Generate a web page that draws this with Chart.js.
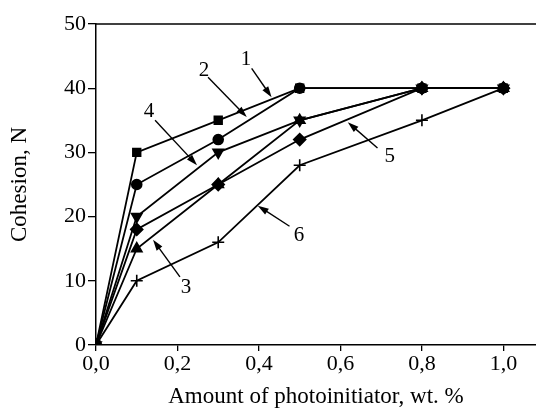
<!DOCTYPE html>
<html>
<head>
<meta charset="utf-8">
<script src="https://cdn.jsdelivr.net/npm/chart.js@4.4.0/dist/chart.umd.min.js"></script>
<style>
  html, body { margin: 0; padding: 0; background: #fff; }
  #wrap { width: 536px; height: 414px; }
</style>
</head>
<body>
<div id="wrap"><canvas id="chart"></canvas></div>
<script>
// photoinitiator amount, wt. %
const amounts = [0, 0.1, 0.3, 0.5, 0.8, 1.0];

// cohesion, N
const curve1 = [0, 30, 35, 40, 40, 40];
const curve2 = [0, 25, 32, 40, 40, 40];
const curve3 = [0, 15, 25, 35, 40, 40];
const curve4 = [0, 20, 30, 35, 40, 40];
const curve5 = [0, 18, 25, 32, 40, 40];
const curve6 = [0, 10, 16, 28, 35, 40];

const xTicks = [0, 0.2, 0.4, 0.6, 0.8, 1.0];

// curve numbers with arrows (data coords)
const tagText = ['1', '2', '3', '4', '5', '6'];
const tagX    = [0.368, 0.265, 0.221, 0.130, 0.721, 0.498];
const tagY    = [44.4, 42.8, 9.0, 36.3, 29.3, 17.1];
const arrowX0 = [0.382, 0.275, 0.206, 0.145, 0.691, 0.475];
const arrowY0 = [43.1, 41.7, 10.6, 35.0, 30.7, 18.5];
const arrowX1 = [0.431, 0.370, 0.140, 0.248, 0.618, 0.397];
const arrowY1 = [38.6, 35.5, 16.4, 28.0, 34.7, 21.7];

const FONT = 'Liberation Serif';

function pts(ys) {
    return amounts.map((x, i) => ({ x, y: ys[i] }));
}

function series(ys, style, rot, r) {
    return {
        data: pts(ys),
        borderColor: '#000',
        backgroundColor: '#000',
        borderWidth: 1.8,
        pointStyle: style,
        pointRotation: rot || 0,
        pointRadius: r || 5,
        pointBorderWidth: 1.6,
        pointBorderColor: '#000',
        pointBackgroundColor: '#000',
        tension: 0,
    };
}

const tags = {
    id: 'tags',
    afterDatasetsDraw(chart) {
        const { ctx, chartArea, scales: { x, y } } = chart;
        ctx.save();
        // top frame line
        ctx.strokeStyle = '#000';
        ctx.lineWidth = 1.5;
        ctx.beginPath();
        ctx.moveTo(chartArea.left, chartArea.top);
        ctx.lineTo(chartArea.right, chartArea.top);
        ctx.stroke();

        ctx.fillStyle = '#000';
        ctx.font = '21px "' + FONT + '"';
        ctx.textAlign = 'center';
        ctx.textBaseline = 'middle';
        for (let i = 0; i < tagText.length; i++) {
            ctx.fillText(tagText[i], x.getPixelForValue(tagX[i]), y.getPixelForValue(tagY[i]));
            const x0 = x.getPixelForValue(arrowX0[i]), y0 = y.getPixelForValue(arrowY0[i]);
            const x1 = x.getPixelForValue(arrowX1[i]), y1 = y.getPixelForValue(arrowY1[i]);
            const a = Math.atan2(y1 - y0, x1 - x0);
            ctx.lineWidth = 1.4;
            ctx.beginPath();
            ctx.moveTo(x0, y0);
            ctx.lineTo(x1 - 6 * Math.cos(a), y1 - 6 * Math.sin(a));
            ctx.stroke();
            ctx.beginPath();
            ctx.moveTo(x1, y1);
            ctx.lineTo(x1 - 11 * Math.cos(a) + 3.5 * Math.sin(a), y1 - 11 * Math.sin(a) - 3.5 * Math.cos(a));
            ctx.lineTo(x1 - 11 * Math.cos(a) - 3.5 * Math.sin(a), y1 - 11 * Math.sin(a) + 3.5 * Math.cos(a));
            ctx.closePath();
            ctx.fill();
        }
        ctx.restore();
    }
};

new Chart(document.getElementById('chart'), {
    type: 'line',
    data: {
        datasets: [
            series(curve1, 'rect', 0, 5.5),
            series(curve2, 'circle', 0, 5),
            series(curve3, 'triangle', 0, 6),
            series(curve4, 'triangle', 180, 6),
            series(curve5, 'rectRot', 0, 6),
            series(curve6, 'cross', 0, 6),
        ]
    },
    options: {
        responsive: true,
        maintainAspectRatio: false,
        animation: false,
        layout: { autoPadding: false, padding: { top: 24, right: 0, left: 0, bottom: 0 } },
        plugins: { legend: { display: false }, tooltip: { enabled: false } },
        scales: {
            x: {
                type: 'linear',
                min: 0,
                max: 1.08,
                afterBuildTicks(axis) { axis.ticks = xTicks.map(v => ({ value: v })); },
                afterFit(axis) { axis.height = 69; },
                grid: { drawOnChartArea: false, tickLength: 6, color: '#000', lineWidth: 1.3 },
                border: { color: '#000', width: 1.5 },
                ticks: {
                    color: '#000',
                    padding: 0,
                    maxRotation: 0,
                    font: { family: FONT, size: 22 },
                    callback: v => v.toFixed(1).replace('.', ',')
                },
                title: {
                    display: true,
                    text: 'Amount of photoinitiator, wt. %',
                    color: '#000',
                    font: { family: FONT, size: 23 },
                    padding: { top: 0, bottom: 3 }
                }
            },
            y: {
                min: 0,
                max: 50,
                afterFit(axis) { axis.width = 96; },
                grid: { drawOnChartArea: false, tickLength: 8, color: '#000', lineWidth: 1.3 },
                border: { color: '#000', width: 1.5 },
                ticks: {
                    color: '#000',
                    stepSize: 10,
                    padding: 2,
                    font: { family: FONT, size: 22 }
                },
                title: {
                    display: true,
                    text: 'Cohesion, N',
                    color: '#000',
                    font: { family: FONT, size: 23 },
                    padding: { top: 6, bottom: 8 }
                }
            }
        }
    },
    plugins: [tags]
});
</script>
</body>
</html>
